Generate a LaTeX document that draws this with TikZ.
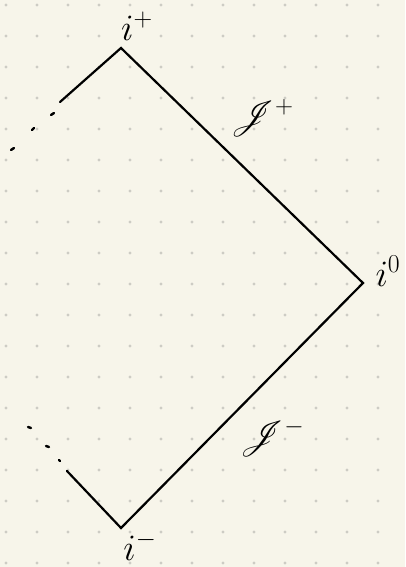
\documentclass[tikz,border=0pt]{standalone}
\usepackage{mathrsfs}
\definecolor{paper}{HTML}{F7F5EA}
\definecolor{griddot}{HTML}{CDCCC4}
\tikzset{
  edge/.style={line width=2.2bp, black, line cap=round, line join=miter},
  ell/.style={line width=2.4bp, black, line cap=round},
  lab/.style={inner sep=0pt, font=\fontsize{24}{28}\selectfont}
}
\begin{document}
\begin{tikzpicture}[x=1bp,y=-1bp]
  \fill[paper] (0,0) rectangle (405,567);
  \useasboundingbox (0,0) rectangle (405,567);
  \foreach \i in {0,...,13} {
    \foreach \j in {0,...,18} {
      \fill[griddot] (6+31*\i, 5+31*\j) circle (1.6bp);
    }
  }
  % vertices
  \coordinate (ip) at (121,48);
  \coordinate (io) at (363,283);
  \coordinate (im) at (121,528);
  \coordinate (ul) at (60,102);
  \coordinate (ll) at (67,471);
  % edges
  \draw[edge] (ul) -- (ip) -- (io) -- (im) -- (ll);
  % ellipses upper
  \draw[ell] (51,115) -- (54,113);
  \draw[ell] (32,130) -- (34,128);
  \draw[ell] (11,150) -- (14,148);
  % ellipses lower
  \draw[ell] (59,460) -- (60,461);
  \draw[ell] (46,446) -- (49,447);
  \draw[ell] (28,427) -- (31,428);
  % labels
  \node[lab] (lip) at (137,26) {\scalebox{1.5}{$i^{+}$}};
  \node[lab] (lscrp) at (262,118) {\scalebox{1.45}{$\mathscr{J}^{+}$}};
  \node[lab] (lio) at (388,271) {\scalebox{1.5}{$i^{0}$}};
  \node[lab] (lscrm) at (272,438) {\scalebox{1.45}{$\mathscr{J}^{-}$}};
  \node[lab] (lim) at (140,546) {\scalebox{1.5}{$i^{-}$}};
\end{tikzpicture}
\end{document}
